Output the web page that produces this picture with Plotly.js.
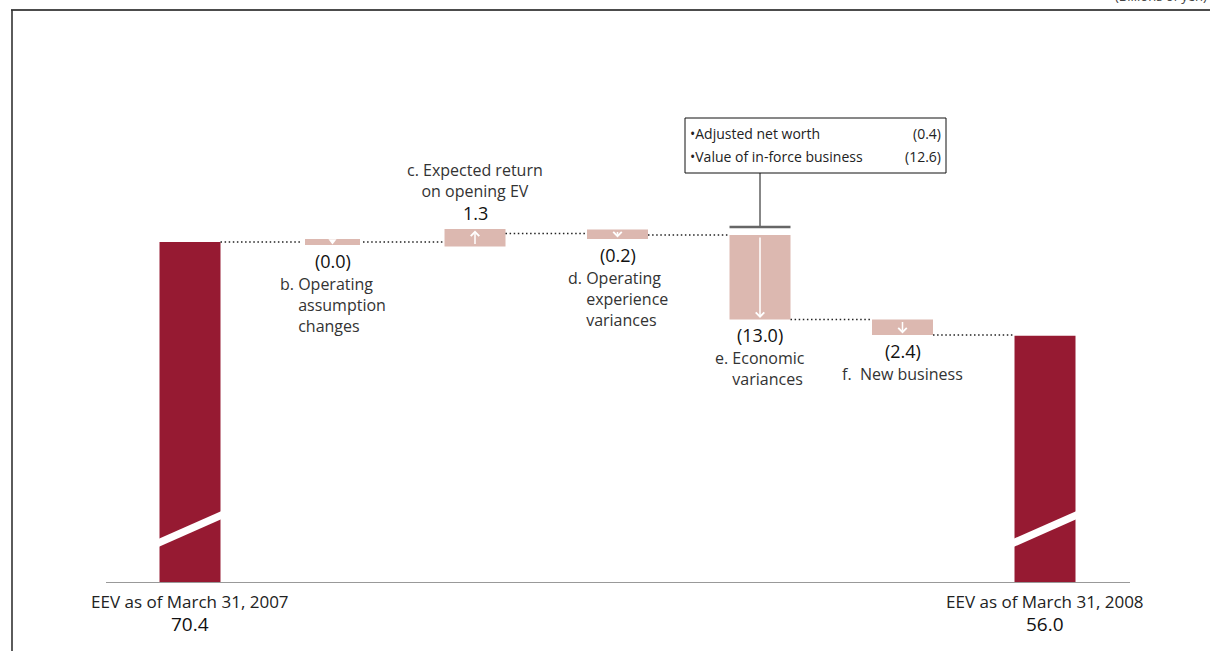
<!DOCTYPE html>
<html><head><meta charset="utf-8">
<script src="https://cdn.plot.ly/plotly-3.0.1.min.js"></script>
<style>html,body{margin:0;padding:0;background:#fff;}#chart{width:1210px;height:651px;}</style>
</head><body><div id="chart"></div>
<script>
// ---------- data ----------
const categories = ['EEV as of March 31, 2007', 'b. Operating assumption changes', 'c. Expected return on opening EV',
  'd. Operating experience variances', 'e. Economic variances', 'f. New business', 'EEV as of March 31, 2008'];
const categoryLines = [
  ['EEV as of March 31, 2007'],
  ['b. Operating', 'assumption', 'changes'],
  ['c. Expected return', 'on opening EV'],
  ['d. Operating', 'experience', 'variances'],
  ['e. Economic', 'variances'],
  ['f.  New business'],
  ['EEV as of March 31, 2008']
];
const openingEV = 70.4;
const changes = [-0.0, 1.3, -0.2, -13.0, -2.4];
const closingEV = 56.0;
const valueLabels = ['70.4', '(0.0)', '1.3', '(0.2)', '(13.0)', '(2.4)', '56.0'];
const breakdownLabels = ['Adjusted net worth', 'Value of in-force business'];
const breakdownValues = ['(0.4)', '(12.6)'];
const breakdownIndex = 4;
const unitNote = '(Billions of yen)';

// ---------- layout constants ----------
const FIG_W = 1210, FIG_H = 651, L = 106, R = 80, T = 20, B = 69;
const W = FIG_W - L - R, H = FIG_H - T - B;
const PX_PER_X = 142.5, PX_PER_Y = 6.5;
const X_RANGE = [-0.5895, -0.5895 + W / PX_PER_X];
const Y_RANGE = [18.1, 18.1 + H / PX_PER_Y];
const BAR_W = 0.428;
const DARK = '#961a32', PINK = '#dcb8b0';
const FONT = 'Open Sans, Noto Sans, sans-serif';
// minimum visual thickness (outline, px) for the small change bars
const minLine = [6, 9, 8, 0, 0];

const xToPaper = v => (v - X_RANGE[0]) / (X_RANGE[1] - X_RANGE[0]);
const yToPaper = v => (v - Y_RANGE[0]) / (Y_RANGE[1] - Y_RANGE[0]);
const pxX = px => (px - L) / W;
const pxY = py => 1 - (py - T) / H;

// cumulative levels
const starts = [], ends = [];
let level = openingEV;
changes.forEach(d => { starts.push(level); level += d; ends.push(level); });
const changeX = changes.map((_, i) => i + 1);
const lastX = categories.length - 1;

// ---------- traces ----------
const totalsTrace = {
  type: 'bar', x: [0, lastX], y: [openingEV, closingEV], width: BAR_W,
  marker: { color: DARK }, hoverinfo: 'skip', showlegend: false
};
const changesTrace = {
  type: 'bar', x: changeX, y: changes, base: starts,
  width: minLine.map(w => BAR_W - w / PX_PER_X),
  marker: { color: PINK, line: { color: PINK, width: minLine } }, hoverinfo: 'skip', showlegend: false
};
const levels = [openingEV].concat(ends);
const cx = [], cy = [];
for (let i = 0; i < lastX; i++) {
  cx.push(i + BAR_W / 2, i + 1 - BAR_W / 2, null);
  cy.push(levels[i], levels[i], null);
}
const connectorTrace = {
  type: 'scatter', mode: 'lines', x: cx, y: cy,
  line: { color: '#222', width: 1.5, dash: '1.5px,2.6px' }, hoverinfo: 'skip', showlegend: false
};
// tiny change marker (zero-length arrow)
const tinyIdx = changes.map((d, i) => Math.abs(d) < 0.1 ? i : -1).filter(i => i >= 0);
const notchTrace = {
  type: 'scatter', mode: 'markers', x: tinyIdx.map(i => i + 1), y: tinyIdx.map(i => starts[i] + 1 / PX_PER_Y),
  marker: { symbol: 'triangle-down', color: '#fff', size: 7 }, hoverinfo: 'skip', showlegend: false
};

// ---------- annotations ----------
const annotations = [];
const ghost = s => '<span style="color:rgba(0,0,0,0)">' + s + '</span>';
// arrows
changes.forEach((d, i) => {
  if (Math.abs(d) < 0.1) return;
  const ext = (minLine[i] / 2) / PX_PER_Y * Math.sign(d);
  annotations.push({
    xref: 'x', yref: 'y', axref: 'x', ayref: 'y', x: i + 1, y: ends[i] + ext, ax: i + 1, ay: starts[i] - ext,
    text: '', showarrow: true, arrowhead: 4, arrowsize: 1.1, arrowwidth: 1.5, arrowcolor: '#fff',
    standoff: 1.5, startstandoff: 1
  });
});
// labels for changes
changes.forEach((d, i) => {
  const idx = i + 1;
  const extra = minLine[i] / 2;
  const lines = categoryLines[idx];
  let text, align = 'left';
  if (d > 0) {
    text = lines.join('<br>');
    align = 'center';
  } else {
    const m = lines[0].match(/^([a-z]\.\s)/);
    const pre = m ? m[1].replace(/ /g, '\u00A0') : '';
    text = lines.map((ln, k) => k === 0 ? ln : ghost(pre) + ln).join('<br>');
  }
  if (d > 0) {
    annotations.push({ xref: 'x', yref: 'y', x: idx, y: ends[i], yanchor: 'bottom', yshift: 2 + extra,
      text: valueLabels[idx], showarrow: false, font: { family: FONT, size: 18, color: '#111' } });
    annotations.push({ xref: 'x', yref: 'y', x: idx, y: ends[i], yanchor: 'bottom', yshift: 25 + extra,
      text: text, align: align, showarrow: false, font: { family: FONT, size: 16, color: '#333' } });
  } else {
    annotations.push({ xref: 'x', yref: 'y', x: idx, y: ends[i], yanchor: 'top', yshift: -2 - extra,
      text: valueLabels[idx], showarrow: false, font: { family: FONT, size: 18, color: '#111' } });
    annotations.push({ xref: 'x', yref: 'y', x: idx, y: ends[i], yanchor: 'top', yshift: -26 - extra,
      text: text, align: align, showarrow: false, font: { family: FONT, size: 16, color: '#333' } });
  }
});
// totals labels
[0, lastX].forEach(idx => {
  annotations.push({ xref: 'x', yref: 'paper', x: idx, y: 0, yanchor: 'top', yshift: -6,
    text: categoryLines[idx].join('<br>'), showarrow: false, font: { family: FONT, size: 17, color: '#222' } });
  annotations.push({ xref: 'x', yref: 'paper', x: idx, y: 0, yanchor: 'top', yshift: -27,
    text: valueLabels[idx], showarrow: false, font: { family: FONT, size: 19, color: '#111' } });
});
// breakdown callout texts
breakdownLabels.forEach((lab, k) => {
  const py = 133 + k * 23;
  annotations.push({ xref: 'paper', yref: 'paper', x: pxX(688), y: pxY(py), xanchor: 'left', yanchor: 'middle',
    text: '•' + lab, showarrow: false, font: { family: FONT, size: 14, color: '#222' } });
  annotations.push({ xref: 'paper', yref: 'paper', x: pxX(943), y: pxY(py), xanchor: 'right', yanchor: 'middle',
    text: breakdownValues[k], showarrow: false, font: { family: FONT, size: 14, color: '#222' } });
});
// unit note (cut at top edge, as in the original)
annotations.push({ xref: 'paper', yref: 'paper', x: pxX(1113), y: pxY(7), xanchor: 'left', yanchor: 'bottom',
  text: unitNote, showarrow: false, font: { family: FONT, size: 13, color: '#444' } });

// ---------- shapes ----------
const shapes = [];
// axis break slashes on total bars
[0, lastX].forEach(idx => {
  const slope = 9.7;
  const mid = Y_RANGE[0] + 8.15;
  shapes.push({ type: 'line', xref: 'x', yref: 'y', x0: idx - 0.26, x1: idx + 0.26,
    y0: mid - 0.26 * slope, y1: mid + 0.26 * slope, line: { color: '#fff', width: 7.5 } });
});
// callout box
const bx = xToPaper(breakdownIndex);
const bracketY = yToPaper(starts[breakdownIndex - 1]) + 8 / H;
shapes.push({ type: 'rect', xref: 'paper', yref: 'paper', x0: pxX(685), x1: pxX(946), y0: pxY(173), y1: pxY(118),
  line: { color: '#111', width: 1 }, fillcolor: '#fff' });
shapes.push({ type: 'line', xref: 'paper', yref: 'paper', x0: bx, x1: bx, y0: pxY(173), y1: bracketY,
  line: { color: '#111', width: 1 } });
shapes.push({ type: 'line', xref: 'paper', yref: 'paper', x0: xToPaper(breakdownIndex - BAR_W / 2), x1: xToPaper(breakdownIndex + BAR_W / 2),
  y0: bracketY, y1: bracketY, line: { color: '#666', width: 2.5 } });
// frame lines
shapes.push({ type: 'line', xref: 'paper', yref: 'paper', x0: pxX(11), x1: pxX(1230), y0: pxY(10), y1: pxY(10),
  line: { color: '#111', width: 1.6 } });
shapes.push({ type: 'line', xref: 'paper', yref: 'paper', x0: pxX(12), x1: pxX(12), y0: pxY(10), y1: pxY(670),
  line: { color: '#333', width: 1.6 } });

const layout = {
  width: FIG_W, height: FIG_H,
  margin: { l: L, r: R, t: T, b: B },
  paper_bgcolor: '#fff', plot_bgcolor: '#fff',
  barmode: 'overlay', showlegend: false,
  font: { family: FONT, color: '#222' },
  xaxis: { range: X_RANGE, showline: true, linecolor: '#999', linewidth: 1, showgrid: false, zeroline: false,
    showticklabels: false, ticks: '', fixedrange: true },
  yaxis: { range: Y_RANGE, visible: false, showgrid: false, zeroline: false, fixedrange: true },
  annotations: annotations,
  shapes: shapes
};

Plotly.newPlot('chart', [totalsTrace, changesTrace, connectorTrace, notchTrace], layout, { displayModeBar: false, staticPlot: true });
</script>
</body></html>
